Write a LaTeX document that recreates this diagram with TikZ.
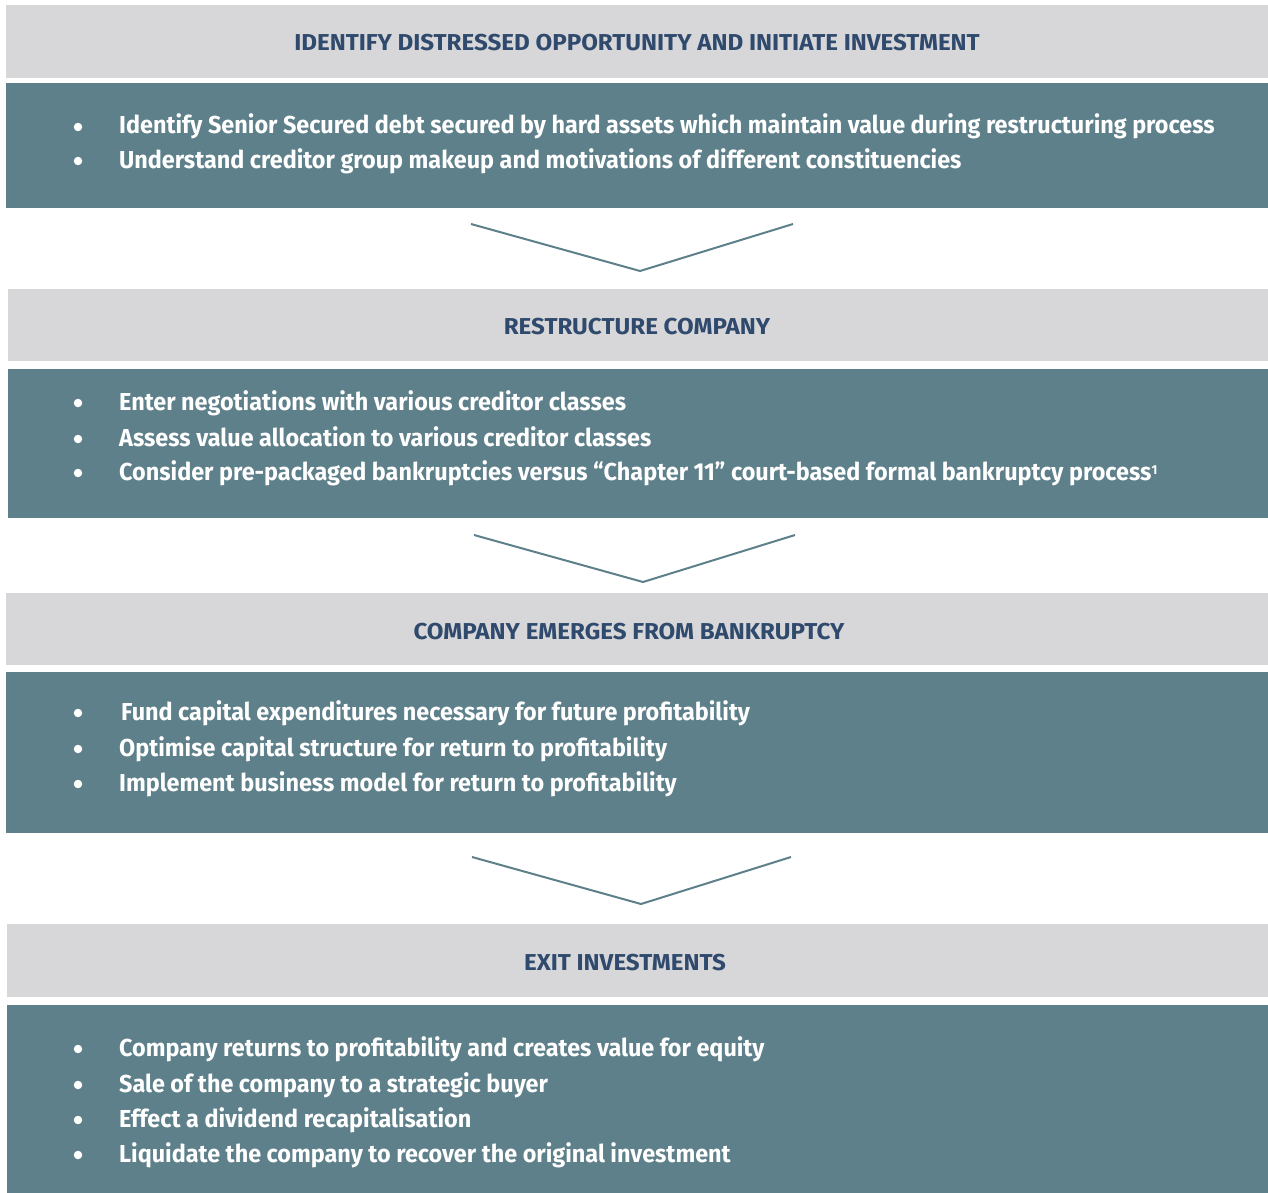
\documentclass[tikz,border=0pt]{standalone}
\usepackage{fontspec}
\setmainfont{Fira Sans}
\newfontfamily\headfont[FakeStretch=1.05]{Fira Sans}
\newfontfamily\bodyfont[FakeStretch=0.955]{Fira Sans}
\definecolor{hdrgrey}{HTML}{D7D7D9}
\definecolor{tealbox}{HTML}{5E808A}
\definecolor{hdrblue}{HTML}{2F4A6D}
\begin{document}
\begin{tikzpicture}[x=1pt,y=-1pt,
  hdrbox/.style={fill=hdrgrey, inner sep=0pt, outer sep=0pt, anchor=north west},
  bodybox/.style={fill=tealbox, inner sep=0pt, outer sep=0pt, anchor=north west},
  hdrtext/.style={text=hdrblue, font=\headfont\bfseries\fontsize{23}{27}\selectfont, inner sep=0pt, anchor=base},
  dot/.style={circle, fill=white, inner sep=0pt, minimum size=8.5pt},
  itemtext/.style={text=white, font=\bodyfont\bfseries\fontsize{24.5}{28}\selectfont, inner sep=0pt, anchor=base west},
  chev/.style={draw=tealbox, line width=2pt, line join=miter}]
\useasboundingbox (0,0) rectangle (1268,1193);

% ---- stage 1 ----
\node[hdrbox, minimum width=1262pt, minimum height=73pt] (h1) at (6,5) {};
\node[hdrtext] (t1) at (637,51) {IDENTIFY DISTRESSED OPPORTUNITY AND INITIATE INVESTMENT};
\node[bodybox, minimum width=1262pt, minimum height=125pt] (b1) at (6,83) {};
\node[dot] (d11) at (78,127) {};
\node[itemtext] (i11) at (119,134) {Identify Senior Secured debt secured by hard assets which maintain value during restructuring process};
\node[dot] (d12) at (78,161) {};
\node[itemtext] (i12) at (119,168) {Understand creditor group makeup and motivations of different constituencies};

% ---- stage 2 ----
\node[hdrbox, minimum width=1260pt, minimum height=72pt] (h2) at (8,289) {};
\node[hdrtext] (t2) at (637,334) {RESTRUCTURE COMPANY};
\node[bodybox, minimum width=1260pt, minimum height=149pt] (b2) at (8,369) {};
\node[dot] (d21) at (78,403) {};
\node[itemtext] (i21) at (119,410) {Enter negotiations with various creditor classes};
\node[dot] (d22) at (78,439) {};
\node[itemtext] (i22) at (119,446) {Assess value allocation to various creditor classes};
\node[dot] (d23) at (78,473) {};
\node[itemtext] (i23) at (119,480) {Consider pre-packaged bankruptcies versus “Chapter 11” court-based formal bankruptcy process{\fontsize{13}{14}\selectfont\raisebox{6pt}{1}}};

% ---- stage 3 ----
\node[hdrbox, minimum width=1262pt, minimum height=72pt] (h3) at (6,593) {};
\node[hdrtext] (t3) at (629,639) {COMPANY EMERGES FROM BANKRUPTCY};
\node[bodybox, minimum width=1262pt, minimum height=161pt] (b3) at (6,672) {};
\node[dot] (d31) at (78,713) {};
\node[itemtext] (i31) at (121,720) {Fund capital expenditures necessary for future profitability};
\node[dot] (d32) at (78,749) {};
\node[itemtext] (i32) at (119,756) {Optimise capital structure for return to profitability};
\node[dot] (d33) at (78,784) {};
\node[itemtext] (i33) at (119,791) {Implement business model for return to profitability};

% ---- stage 4 ----
\node[hdrbox, minimum width=1261pt, minimum height=73pt] (h4) at (7,924) {};
\node[hdrtext] (t4) at (625,970) {EXIT INVESTMENTS};
\node[bodybox, minimum width=1261pt, minimum height=188pt] (b4) at (7,1005) {};
\node[dot] (d41) at (78,1049) {};
\node[itemtext] (i41) at (119,1056) {Company returns to profitability and creates value for equity};
\node[dot] (d42) at (78,1085) {};
\node[itemtext] (i42) at (119,1092) {Sale of the company to a strategic buyer};
\node[dot] (d43) at (78,1120) {};
\node[itemtext] (i43) at (119,1127) {Effect a dividend recapitalisation};
\node[dot] (d44) at (78,1155) {};
\node[itemtext] (i44) at (119,1162) {Liquidate the company to recover the original investment};

% ---- chevrons between stages ----
\coordinate (c1l) at (471,224); \coordinate (c1m) at (640,271); \coordinate (c1r) at (793,224);
\draw[chev] (c1l) -- (c1m) -- (c1r);
\coordinate (c2l) at (474,535); \coordinate (c2m) at (643,582); \coordinate (c2r) at (795,535);
\draw[chev] (c2l) -- (c2m) -- (c2r);
\coordinate (c3l) at (472,857); \coordinate (c3m) at (641,904); \coordinate (c3r) at (791,857);
\draw[chev] (c3l) -- (c3m) -- (c3r);
\end{tikzpicture}
\end{document}
